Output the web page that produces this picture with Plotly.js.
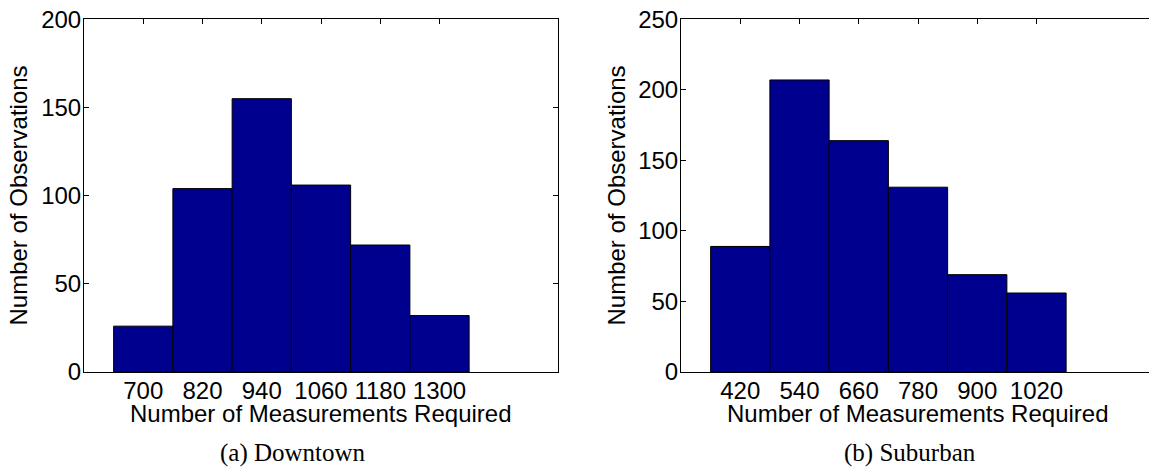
<!DOCTYPE html>
<html>
<head>
<meta charset="utf-8">
<script src="https://cdn.plot.ly/plotly-3.0.1.min.js"></script>
<style>
html, body { margin: 0; padding: 0; overflow: hidden; background: #fff; width: 1149px; height: 467px; }
#chart { width: 1160px; height: 467px; }
</style>
</head>
<body>
<div id="chart"></div>
<script>
// Downtown histogram (bin centers and counts)
const downtownBins = [700, 820, 940, 1060, 1180, 1300];
const downtownCounts = [26, 104, 155, 106, 72, 32];
// Suburban histogram
const suburbanBins = [420, 540, 660, 780, 900, 1020];
const suburbanCounts = [89, 207, 164, 131, 69, 56];
const binWidth = 120;

const xTitle = 'Number of Measurements Required';
const yTitle = 'Number of Observations';
const captionA = '(a) Downtown';
const captionB = '(b) Suburban';

const W = 1160, H = 467;
const px = v => v / W;
const py = v => 1 - v / H;

const barColor = 'rgb(0,0,143)';
const sans = 'Liberation Sans, Arial, Helvetica, sans-serif';
const serif = 'Liberation Serif, Times New Roman, serif';

function barTrace(x, y, xa, ya) {
  return {
    type: 'bar', x: x, y: y, width: binWidth,
    marker: { color: barColor, line: { color: 'black', width: 1 } },
    xaxis: xa, yaxis: ya, hoverinfo: 'x+y', showlegend: false
  };
}

const axisCommon = {
  showline: true, linecolor: 'black', linewidth: 1, mirror: 'ticks',
  ticks: 'inside', ticklen: 5, tickcolor: 'black', tickwidth: 1,
  showgrid: false, zeroline: false,
  tickfont: { family: sans, size: 24, color: 'black' },
  fixedrange: true
};

const yDomain = [py(372), py(19.3)];

const layout = {
  width: W, height: H,
  margin: { l: 0, r: 0, t: 0, b: 0 },
  paper_bgcolor: 'white', plot_bgcolor: 'white',
  bargap: 0,
  showlegend: false,
  xaxis: Object.assign({}, axisCommon, {
    domain: [px(84), px(558)], range: [580, 1540], anchor: 'y',
    tickvals: downtownBins, ticktext: downtownBins.map(String),
    layer: 'below traces', ticklabelstandoff: -3
  }),
  yaxis: Object.assign({}, axisCommon, {
    domain: yDomain, range: [0, 200], tick0: 0, dtick: 50, anchor: 'x',
    ticklabelstandoff: -3
  }),
  xaxis2: Object.assign({}, axisCommon, {
    domain: [px(681), px(1155)], range: [300, 1260], anchor: 'y2',
    tickvals: suburbanBins, ticktext: suburbanBins.map(String),
    layer: 'below traces', ticklabelstandoff: -3
  }),
  yaxis2: Object.assign({}, axisCommon, {
    domain: yDomain, range: [0, 250], tick0: 0, dtick: 50, anchor: 'x2',
    ticklabelstandoff: -3
  }),
  annotations: [
    { text: xTitle, xref: 'paper', yref: 'paper', x: px(321), y: py(413), xanchor: 'center', yanchor: 'middle', showarrow: false, font: { family: sans, size: 24, color: 'black' } },
    { text: xTitle, xref: 'paper', yref: 'paper', x: px(918), y: py(413), xanchor: 'center', yanchor: 'middle', showarrow: false, font: { family: sans, size: 24, color: 'black' } },
    { text: yTitle, xref: 'paper', yref: 'paper', x: px(18), y: py(195.5), xanchor: 'center', yanchor: 'middle', textangle: -90, showarrow: false, font: { family: sans, size: 24, color: 'black' } },
    { text: yTitle, xref: 'paper', yref: 'paper', x: px(616), y: py(195.5), xanchor: 'center', yanchor: 'middle', textangle: -90, showarrow: false, font: { family: sans, size: 24, color: 'black' } },
    { text: captionA, xref: 'paper', yref: 'paper', x: px(293), y: py(453), xanchor: 'center', yanchor: 'middle', showarrow: false, font: { family: serif, size: 25, color: 'black' } },
    { text: captionB, xref: 'paper', yref: 'paper', x: px(910), y: py(453), xanchor: 'center', yanchor: 'middle', showarrow: false, font: { family: serif, size: 25, color: 'black' } }
  ]
};

Plotly.newPlot('chart', [
  barTrace(downtownBins, downtownCounts, 'x', 'y'),
  barTrace(suburbanBins, suburbanCounts, 'x2', 'y2')
], layout, { displayModeBar: false, staticPlot: true });
</script>
</body>
</html>
